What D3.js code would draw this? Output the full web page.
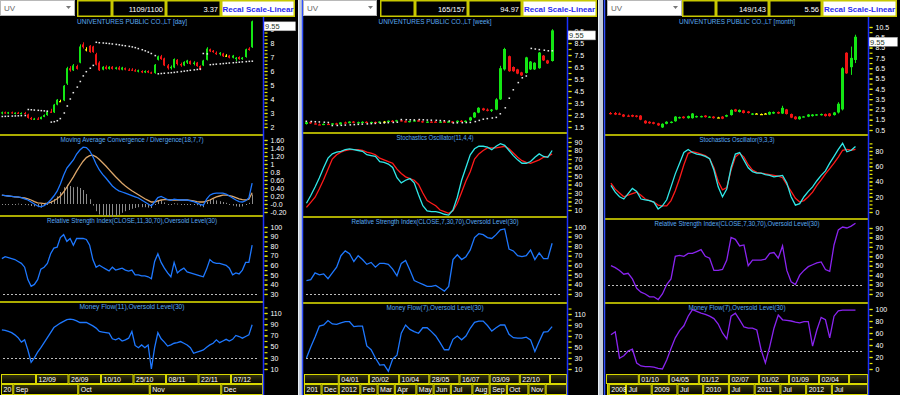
<!DOCTYPE html>
<html>
<head>
<meta charset="utf-8">
<script src="https://cdn.jsdelivr.net/npm/d3@7"></script>
<style>
body { margin: 0; background: #000; }
svg { display: block; font-family: "Liberation Sans", Arial, sans-serif; }
</style>
</head>
<body>
<svg id="chart" width="900" height="395"></svg>
<script>
"use strict";

// ---------- day panel data: [open, high, low, close] ----------
const dayCandles = [
  [3.0,3.1,2.9,3.05],[3.05,3.1,2.95,2.98],[2.98,3.08,2.92,3.05],[3.05,3.1,2.95,2.98],[2.98,3.05,2.9,3.02],
  [3.02,3.08,2.95,2.96],[2.96,3.05,2.9,3.0],[3.0,3.08,2.92,2.95],[2.9,2.95,2.6,2.65],[2.65,2.72,2.5,2.55],
  [2.55,2.65,2.5,2.6],[2.6,2.7,2.52,2.56],[2.56,2.75,2.55,2.72],[2.72,2.9,2.7,2.85],[2.85,3.15,2.8,3.1],
  [3.1,3.3,3.0,3.05],[3.05,3.65,3.0,3.6],[3.6,4.0,3.55,3.95],[3.85,3.95,3.8,3.85],[3.9,5.0,3.85,4.95],
  [5.1,6.3,5.0,6.2],[6.2,6.35,5.95,6.05],[6.05,6.5,6.0,6.4],[6.35,6.45,6.1,6.15],[6.6,7.9,6.55,7.75],
  [7.9,8.05,7.6,7.7],[7.55,7.7,7.4,7.55],[7.8,7.85,7.3,7.35],[7.75,7.8,7.3,7.35],[7.2,7.3,6.4,6.45],
  [6.6,6.7,6.0,6.05],[6.1,6.35,6.05,6.3],[6.3,6.4,6.1,6.15],[6.15,6.35,6.1,6.3],[6.3,6.35,6.1,6.15],
  [6.15,6.3,6.1,6.25],[6.25,6.35,6.05,6.1],[6.1,6.3,6.05,6.25],[6.2,6.25,6.05,6.1],[6.1,6.2,6.0,6.05],
  [6.1,6.2,6.0,6.05],[6.05,6.15,5.95,6.0],[5.95,6.1,5.9,6.05],[6.0,6.05,5.85,5.9],[5.9,6.05,5.85,6.0],
  [6.0,6.05,5.85,5.9],[5.9,5.95,5.8,5.85],[5.85,6.5,5.8,6.45],[6.8,7.1,6.75,7.05],[7.05,7.15,6.8,6.85],
  [6.9,6.95,6.35,6.4],[6.4,6.5,6.1,6.2],[6.2,6.4,6.1,6.3],[6.25,6.9,6.2,6.85],[6.8,6.85,6.4,6.5],
  [6.5,6.6,6.3,6.4],[6.4,6.7,6.35,6.65],[6.6,6.8,6.5,6.75],[6.7,6.75,6.45,6.5],[6.5,6.7,6.4,6.6],
  [6.6,6.65,6.3,6.35],[6.35,6.4,6.05,6.1],[6.4,6.8,6.35,6.75],[6.8,7.7,6.75,7.6],[7.55,7.6,7.35,7.4],
  [7.45,7.5,7.3,7.35],[7.3,7.4,7.15,7.2],[7.2,7.35,7.1,7.3],[7.25,7.3,7.0,7.05],[7.1,7.2,7.0,7.1],
  [7.1,7.15,6.9,6.95],[6.95,7.15,6.9,7.1],[6.85,7.0,6.7,6.95],[7.0,7.05,6.8,6.85],[6.85,7.0,6.8,6.95],
  [7.0,7.6,6.95,7.55],[7.6,7.7,7.45,7.5],[7.7,9.6,7.65,9.55]
];
const daySar = [
  2.75,2.76,2.77,2.78,2.79,2.8,2.81,2.82,
  3.25,3.23,3.21,3.19,3.17,3.15,3.13,
  2.35,2.38,2.45,2.6,3.0,3.5,4.0,4.45,4.85,5.25,5.65,5.95,6.2,6.4,
  8.05,8.02,8.0,7.98,7.96,7.93,7.9,7.87,7.83,7.8,7.76,7.72,7.67,7.6,7.52,7.44,7.35,7.25,7.1,
  5.8,5.82,5.84,5.86,5.88,5.9,5.93,5.96,5.99,6.02,6.05,6.08,6.11,6.14,
  7.25,7.22,
  6.45,6.47,6.49,6.51,6.53,6.55,6.57,6.59,6.61,6.63,6.65,6.67,6.69,6.7
];
const dayMacd = [
  0.22,0.21,0.2,0.19,0.18,0.18,0.16,0.13,0.1,0.05,
  0.0,-0.05,-0.07,-0.04,0.02,0.1,0.2,0.32,0.5,0.72,
  0.9,1.0,1.1,1.25,1.35,1.42,1.41,1.33,1.18,1.0,
  0.85,0.74,0.65,0.55,0.45,0.38,0.33,0.3,0.27,0.24,
  0.21,0.18,0.15,0.1,0.05,0.0,-0.05,0.05,0.16,0.19,
  0.15,0.11,0.09,0.12,0.11,0.1,0.1,0.1,0.08,0.06,
  0.03,-0.01,-0.03,0.12,0.22,0.26,0.27,0.27,0.27,0.25,
  0.2,0.15,0.1,0.06,0.05,0.08,0.15,0.52
];
const daySignal = [
  0.22,0.21,0.2,0.19,0.18,0.17,0.16,0.15,0.13,0.1,
  0.06,0.03,0.02,0.01,0.02,0.04,0.08,0.13,0.2,0.3,
  0.42,0.55,0.68,0.82,0.95,1.07,1.16,1.21,1.22,1.18,
  1.11,1.03,0.95,0.86,0.77,0.68,0.6,0.52,0.45,0.39,
  0.33,0.28,0.23,0.18,0.13,0.09,0.05,0.05,0.08,0.1,
  0.11,0.11,0.1,0.1,0.1,0.1,0.1,0.1,0.09,0.08,
  0.06,0.05,0.05,0.07,0.1,0.14,0.18,0.2,0.22,0.22,
  0.21,0.19,0.16,0.13,0.11,0.1,0.12,0.28
];
const dayRsi = [
  67,69,68,67,66,64,62,58,45,38, 40,45,56,58,62,72,78,79,89,92,
  85,88,81,88,88,88,87,81,66,58, 60,58,56,54,58,55,56,57,55,54,
  55,50,50,49,49,48,46,64,72,63, 57,52,48,63,52,55,57,53,52,51,
  50,49,48,56,66,63,62,62,61,60, 57,50,52,51,55,63,63,81
];
const dayMf = [
  80,79,77,75,71,66,58,62,44,22, 30,40,48,57,66,75,84,88,92,95,
  98,99,98,96,93,93,93,90,87,83, 77,76,75,74,64,62,65,60,62,65,
  77,52,48,53,48,53,10,48,75,64, 58,51,53,56,57,59,56,53,48,38,
  40,42,44,49,53,56,62,57,60,63, 60,63,70,68,65,68,71,89
];
const dayTickIdx = [11, 21, 31, 41, 51, 61, 71];
const dayTickLabels = ["", "12/09", "26/09", "10/10", "25/10", "08/11", "22/11", "07/12"];
const dayMonthIdx = [4, 24, 46, 68];
const dayMonthLabels = ["20", "Sep", "Oct", "Nov", "Dec"];
const dayHeader = ["", "1109/1100", "3.37", "Recal Scale-Linear"];

// ---------- week panel data ----------
const weekCandles = [
  [1.75,1.95,1.7,1.9],[1.9,1.95,1.75,1.8],[1.8,1.88,1.7,1.75],[1.72,1.8,1.65,1.68],[1.68,1.8,1.65,1.76],
  [1.76,1.82,1.68,1.7],[1.7,1.82,1.68,1.8],[1.8,1.85,1.7,1.72],[1.72,1.9,1.7,1.88],[1.88,1.95,1.8,1.82],
  [1.82,1.98,1.8,1.95],[1.95,2.0,1.82,1.85],[1.85,1.95,1.8,1.9],[1.9,1.98,1.85,1.93],[1.93,1.98,1.85,1.88],
  [1.88,1.95,1.84,1.92],[1.92,1.96,1.86,1.9],[1.9,1.98,1.86,1.95],[1.95,2.0,1.9,1.95],[1.95,2.05,1.92,2.02],
  [2.02,2.08,1.95,2.0],[2.0,2.1,1.95,2.06],[2.06,2.1,1.95,1.98],[1.98,2.05,1.88,1.92],[1.92,2.02,1.88,2.0],
  [2.0,2.1,1.95,2.05],[2.05,2.12,1.95,1.98],[1.98,2.02,1.85,1.88],[1.88,1.98,1.85,1.95],[1.95,1.98,1.86,1.9],
  [1.95,2.0,1.88,1.9],[1.9,1.98,1.85,1.95],[1.95,2.0,1.88,1.92],[1.92,2.0,1.88,1.96],[1.96,2.0,1.88,1.9],
  [1.9,2.05,1.88,2.02],[2.02,2.08,1.92,1.95],[1.95,2.05,1.9,2.02],[2.05,2.35,2.0,2.3],[2.3,2.75,2.25,2.7],
  [2.7,3.15,2.65,3.1],[3.05,3.1,2.85,2.9],[2.95,3.05,2.8,2.85],[2.85,3.0,2.75,2.95],[2.95,3.9,2.9,3.8],
  [3.8,6.6,3.75,6.4],[6.3,8.1,6.2,8.0],[7.4,7.45,6.1,6.15],[6.5,6.55,6.1,6.15],[6.3,6.35,5.9,5.95],
  [6.05,6.1,5.75,5.8],[6.0,7.35,5.95,7.3],[6.3,7.0,6.25,6.95],[6.3,6.9,6.25,6.85],[6.4,7.75,6.35,7.7],
  [7.45,7.5,7.0,7.05],[7.05,7.1,6.75,6.8],[7.0,9.65,6.95,9.55]
];
const weekSar = [
  1.98,1.96,1.94,1.92,1.9,1.88,
  1.62,1.63,1.64,1.66,1.68,1.7,1.72,1.74,1.76,1.78,1.8,1.82,1.84,1.86,1.88,1.9,
  2.12,2.11,2.1,2.09,2.12,2.1,2.08,2.07,2.06,2.04,2.02,2.0,
  1.84,1.85,1.86,1.87,
  1.88,1.95,2.05,2.15,2.2,2.25,2.3,2.6,3.1,3.9,4.6,5.2,5.6,5.75,
  8.05,8.0,7.95,7.9,7.85,7.85
];
const weekK = [
  18,27,37,48,60,71,76,78,79,81, 82,81,80,79,75,74,73,67,66,64,
  60,48,42,45,47,42,28,15,9,8, 8,7,5,4,10,25,45,60,75,82,
  85,85,84,81,85,88,86,80,74,69, 65,65,67,72,76,73,72,80
];
const weekD = [
  13,19,25,35,46,58,70,75,78,80, 81,81,81,80,78,77,75,71,69,67,
  65,58,53,49,47,45,40,30,21,18, 15,10,8,6,9,18,31,44,55,70,
  76,80,83,83,83,84,85,82,77,72, 68,66,65,67,69,72,73,76
];
const weekRsi = [
  44,45,52,50,51,46,52,58,70,75, 72,64,70,66,61,63,58,62,62,61,
  56,49,62,65,55,44,42,40,38,38, 39,36,33,38,66,71,66,69,76,89,
  93,92,89,88,92,97,98,77,75,70, 69,70,76,66,73,67,67,83
];
const weekMf = [
  30,50,68,88,90,98,92,91,94,96, 96,87,88,88,52,45,30,17,18,6,
  28,35,75,90,82,78,75,85,85,78, 70,58,45,45,64,70,63,70,84,95,
  97,97,89,79,85,90,90,73,67,66, 66,68,63,42,60,77,78,87
];
const weekTickIdx = [8, 15, 22, 29, 36, 43, 50, 57];
const weekTickLabels = ["", "04/01", "20/02", "10/04", "28/05", "16/07", "03/09", "22/10", ""];
const weekMonthIdx = [4, 8, 13, 17, 21, 26, 30, 34, 39, 43, 47, 52, 56];
const weekMonthLabels = ["201", "Dec", "2012", "Feb", "Mar", "Apr", "May", "Jun", "Jul", "Aug", "Sep", "Oct", "Nov", ""];
const weekHeader = ["", "165/157", "94.97", "Recal Scale-Linear"];

// ---------- month panel data ----------
const monthCandles = [
  [2.15,2.25,2.0,2.05],[2.15,2.25,1.95,2.0],[2.1,2.2,1.95,1.98],[2.0,2.05,1.75,1.8],[1.9,2.0,1.78,1.82],
  [1.95,2.0,1.75,1.8],[1.9,1.95,1.72,1.78],[1.9,1.95,1.45,1.5],[1.4,1.45,1.1,1.15],[1.3,1.35,1.1,1.15],
  [1.25,1.3,1.05,1.1],[1.15,1.2,0.9,0.95],[0.75,1.15,0.7,1.1],[1.1,1.35,1.05,1.3],[1.2,1.35,1.15,1.3],
  [1.35,1.85,1.3,1.8],[1.65,1.8,1.6,1.75],[1.8,1.85,1.6,1.65],[1.65,1.9,1.6,1.85],[1.65,2.15,1.6,2.1],
  [1.75,1.9,1.7,1.85],[1.75,1.9,1.72,1.85],[1.9,1.95,1.7,1.75],[1.75,1.85,1.68,1.8],[1.8,1.85,1.6,1.65],
  [1.72,1.78,1.68,1.72],[1.8,1.85,1.55,1.6],[1.8,2.0,1.75,1.95],[1.95,2.5,1.9,2.45],[2.5,2.55,2.25,2.3],
  [2.25,2.5,2.2,2.45],[2.4,2.45,2.1,2.15],[2.3,2.35,2.1,2.15],[2.0,2.15,1.95,2.1],[2.1,2.15,2.05,2.1],
  [2.05,2.1,2.0,2.05],[2.1,2.15,2.05,2.1],[2.0,2.3,1.95,2.25],[2.1,2.3,2.05,2.25],[2.25,2.3,2.05,2.1],
  [2.1,2.85,2.05,2.65],[2.5,2.55,2.0,2.05],[2.05,2.1,1.65,1.7],[1.8,1.85,1.5,1.55],[1.55,1.85,1.5,1.8],
  [1.75,1.85,1.72,1.82],[1.8,2.05,1.75,2.0],[1.85,2.05,1.8,2.0],[1.9,2.05,1.88,2.02],[1.95,2.1,1.9,2.05],
  [2.05,2.1,1.8,1.85],[2.1,2.15,1.8,1.85],[1.95,2.25,1.9,2.2],[2.2,3.2,2.1,3.05],[2.5,6.6,2.4,6.5],
  [8.0,8.05,5.95,6.0],[6.6,8.6,5.85,7.5],[7.3,9.75,7.0,9.55]
];
const monthK = [
  35,26,20,17,24,31,27,17,16,15, 13,4,8,16,33,50,64,78,82,78,
  76,75,73,70,55,33,20,30,58,76, 78,68,58,53,51,51,49,48,46,47,
  48,38,20,9,11,20,27,33,41,48, 54,64,73,82,90,79,81,86
];
const monthD = [
  38,30,25,20,22,24,26,22,17,15, 13,9,8,8,15,28,44,62,77,79,
  78,76,74,70,58,40,29,32,55,72, 77,72,62,55,52,51,50,49,48,47,
  45,36,27,18,13,15,20,26,35,42, 50,57,64,72,81,82,81,82
];
const monthRsi = [
  50,48,45,41,42,36,26,22,20,17, 17,14,20,30,36,60,61,60,63,63,
  65,67,60,58,45,45,46,56,80,78, 71,72,50,56,56,56,57,63,64,58,
  71,45,33,30,40,45,49,51,53,54, 46,44,72,88,91,90,92,95
];
const monthMf = [
  57,62,18,22,30,33,10,5,4,4, 3,1,0,15,34,52,64,72,88,99,
  96,93,91,88,84,75,60,50,88,93, 82,70,68,68,65,32,10,37,68,90,
  82,81,80,78,77,79,79,38,65,86, 82,52,88,97,98,98,98,98
];
const monthTickIdx = [7, 14, 21, 28, 35, 42, 49, 56];
const monthTickLabels = ["", "01/10", "04/05", "01/12", "02/07", "01/02", "01/09", "02/04", ""];
const monthMonthIdx = [0, 4, 10, 16, 22, 28, 34, 40, 46, 52];
const monthMonthLabels = ["", "2008", "Jul", "2009", "Jul", "2010", "Jul", "2011", "Jul", "2012", "Jul"];
const monthHeader = ["", "149/143", "5.56", "Recal Scale-Linear"];

// ---------- styles ----------
const YEL = "#e6e600"
const AXIS_BLUE = "#1a30ff"
const TITLE = "#5aaaf0"
const GREEN = "#14e614", RED = "#f01414", DOJI = "#ffff00"
const LINE_BLUE = "#1e78ff", PURPLE = "#8a24f0", CYAN = "#30e8e8", SIG_RED = "#ff1a1a", TAN = "#dca66a"

const svg = d3.select("#chart")
svg.append("rect").attr("width", 900).attr("height", 395).attr("fill", "#000")

const grad = svg.append("defs").append("linearGradient").attr("id", "glow")
    .attr("x1", 0).attr("y1", 0).attr("x2", 0).attr("y2", 1)
grad.append("stop").attr("offset", "0%").attr("stop-color", "#34340e")
grad.append("stop").attr("offset", "100%").attr("stop-color", "#060600")

function rightAxis(g, scale, axisX, ticks, labels, minor) {
    var gm = g.append("g").attr("transform", "translate(" + (axisX + 1.5) + ",0)")
        .call(d3.axisRight(scale).tickValues(minor).tickSize(3).tickFormat(""))
    var ga = g.append("g").attr("transform", "translate(" + (axisX + 1.5) + ",0)")
        .call(d3.axisRight(scale).tickValues(ticks).tickSize(3).tickPadding(3)
            .tickFormat(d => labels[ticks.indexOf(d)]))
    ;[gm, ga].forEach(a => {
        a.select(".domain").remove()
        a.attr("font-family", null).attr("font-size", null)
        a.selectAll(".tick line").attr("stroke", YEL).attr("stroke-width", 1.2)
        a.selectAll(".tick text").attr("fill", "#fff").attr("font-size", 7)
    })
}

function drawTitle(g, text, cx, y, w) {
    g.append("text").attr("x", cx).attr("y", y).attr("text-anchor", "middle")
        .attr("font-size", 7.5).attr("fill", TITLE)
        .attr("textLength", w).attr("lengthAdjust", "spacingAndGlyphs")
        .text(text)
}

function drawCandles(g, data, cx, y, bodyW) {
    var c = g.append("g").selectAll("g").data(data).join("g")
        .attr("fill", d => d[3] > d[0] ? GREEN : d[3] < d[0] ? RED : DOJI)
        .attr("stroke", d => d[3] > d[0] ? GREEN : d[3] < d[0] ? RED : DOJI)
    c.each(function (d, i) {
        var left = Math.round(cx(i) - bodyW / 2)
        var wx = left + Math.floor(bodyW / 2) + 0.5
        var sel = d3.select(this)
        sel.append("line").attr("x1", wx).attr("x2", wx)
            .attr("y1", y(d[1])).attr("y2", y(d[2])).attr("stroke-width", 1)
        var top = y(Math.max(d[0], d[3])), bot = y(Math.min(d[0], d[3]))
        sel.append("rect").attr("x", left).attr("width", bodyW)
            .attr("y", top).attr("height", Math.max(1.2, bot - top)).attr("stroke", "none")
    })
}

function drawDates(g, p, x) {
    var rows = [
        { y: 374, h: 10, idx: p.tickIdx, labels: p.tickLabels, start: p.x0 + 1 },
        { y: 384, h: 11, idx: p.monthIdx, labels: p.monthLabels, start: p.x0 + (p.monthStart || 1) }
    ]
    rows.forEach(r => {
        var edges = [r.start].concat(r.idx.map(i => x(i))).concat([p.axisX])
        var boxes = d3.range(edges.length - 1).map(k => ({ x: edges[k], w: edges[k + 1] - edges[k], label: r.labels[k] }))
        var b = g.append("g").selectAll("g").data(boxes).join("g")
        b.append("rect").attr("x", d => d.x + 0.5).attr("y", r.y + 0.5)
            .attr("width", d => Math.max(0, d.w - 1)).attr("height", r.h - 1)
            .attr("fill", "url(#glow)").attr("stroke", "#d8d800").attr("stroke-width", 1)
        b.append("text").attr("x", d => d.x + 2.5).attr("y", r.y + 8)
            .attr("font-size", 7).attr("fill", "#fff").text(d => d.label)
    })
}

function drawHeader(g, p) {
    var d0 = p.drop[0], d1 = p.drop[1]
    g.append("rect").attr("x", d0 + 0.5).attr("y", 0.5).attr("width", d1 - d0 - 1).attr("height", 15)
        .attr("fill", "#fff").attr("stroke", "#b8b8b8")
    g.append("text").attr("x", d0 + 4).attr("y", 11).attr("font-size", 8).attr("fill", "#666").text("UV")
    g.append("path").attr("d", "M" + (d1 - 9) + ",6 h5 l-2.5,3 z").attr("fill", "#777")
    var e = p.edges
    for (var k = 0; k < 4; k++) {
        var last = k === 3
        g.append("rect").attr("x", e[k] + 0.75).attr("y", 0.75)
            .attr("width", e[k + 1] - e[k] - 1.5).attr("height", 15.5)
            .attr("fill", last ? "#fff" : "#000").attr("stroke", "#c8c800").attr("stroke-width", 1.5)
        if (last) {
            g.append("text").attr("x", (e[k] + e[k + 1]) / 2).attr("y", 11.5).attr("text-anchor", "middle")
                .attr("font-size", 8).attr("font-weight", "bold").attr("fill", "#2a2af0").text(p.header[k])
        } else {
            g.append("text").attr("x", e[k + 1] - 3).attr("y", 11.5).attr("text-anchor", "end")
                .attr("font-size", 7.5).attr("fill", "#fff").text(p.header[k])
        }
    }
}

function drawPanel(p) {
    var g = svg.append("g")
    var n = p.candles.length
    var x = d3.scaleBand().domain(d3.range(n)).range([p.bandStart, p.bandStart + n * p.step])
    var cx = i => x(i) + x.bandwidth() / 2

    // separators between sub-panels
    p.seps.forEach(y => g.append("line").attr("x1", p.x0).attr("x2", p.axisX)
        .attr("y1", y).attr("y2", y).attr("stroke", YEL).attr("stroke-width", 1.5))

    // price chart
    var yP = d3.scaleLinear().domain(p.priceDomain).range(p.priceRange)
    drawCandles(g, p.candles, cx, yP, p.bodyW)
    if (p.sar) {
        g.append("g").selectAll("rect").data(p.sar).join("rect")
            .attr("x", (d, i) => Math.round(cx(i)) - 0.5).attr("y", d => yP(d) - 0.75)
            .attr("width", 1.6).attr("height", 1.5).attr("fill", "#e8e8e8")
    }
    drawTitle(g, p.title, p.titleX, 24, p.titleW)
    rightAxis(g, yP, p.axisX, p.priceTicks, p.priceTicks.map(p.priceFmt), p.priceMinor)

    // indicator panels
    p.subs.forEach(s => {
        var y = d3.scaleLinear().domain(s.domain).range(s.range)
        if (s.oversold !== undefined) {
            g.append("line").attr("x1", p.x0 + 3).attr("x2", p.axisX - 5)
                .attr("y1", Math.round(y(s.oversold)) + 0.5).attr("y2", Math.round(y(s.oversold)) + 0.5)
                .attr("stroke", "#bdbdbd").attr("stroke-dasharray", "2,2")
        }
        if (s.hist) {
            g.append("g").selectAll("rect").data(s.hist[0]).join("rect")
                .attr("x", (d, i) => Math.round(cx(i)))
                .attr("width", 1)
                .attr("y", (d, i) => Math.min(y(0), y(d - s.hist[1][i])))
                .attr("height", (d, i) => Math.max(1, Math.abs(y(0) - y(d - s.hist[1][i]))))
                .attr("fill", "#8c8c8c")
        }
        s.lines.forEach(l => {
            g.append("path").datum(l.data)
                .attr("d", d3.line().x((d, i) => cx(i)).y(d => y(d)))
                .attr("fill", "none").attr("stroke", l.color).attr("stroke-width", 1.3)
        })
        drawTitle(g, s.title, p.titleX, s.titleY, s.titleW)
        rightAxis(g, y, p.axisX, s.ticks, s.labels || s.ticks.map(String), s.minor)
    })

    // last price box
    var last = p.candles[n - 1][3]
    var by = yP(last) + 0.5
    g.append("rect").attr("x", p.axisX + 0.5).attr("y", by).attr("width", p.right - p.axisX - 3).attr("height", 9)
        .attr("fill", "#fff").attr("stroke", "#9a9a9a").attr("stroke-width", 0.5)
    g.append("text").attr("x", p.axisX + 2).attr("y", by + 7.5).attr("font-size", 7.5).attr("fill", "#2a3a2a")
        .text(d3.format(".2f")(last))

    drawDates(g, p, x)

    // vertical axis line
    g.append("line").attr("x1", p.axisX + 0.5).attr("x2", p.axisX + 0.5).attr("y1", 17).attr("y2", 395)
        .attr("stroke", AXIS_BLUE).attr("stroke-width", 1.5)
    if (p.x0 > 0) {
        g.append("line").attr("x1", p.x0 - 0.5).attr("x2", p.x0 - 0.5).attr("y1", 0).attr("y2", 395)
            .attr("stroke", "#3050ff").attr("stroke-width", 1.5)
    }
    drawHeader(g, p)
}

const rsiTicks = [30, 40, 50, 60, 70, 80, 90, 100]
const mfTicks = [10, 30, 50, 70, 90, 110]

const panels = [
    {
        x0: 0, axisX: 263, right: 298, bandStart: 0.25, step: 3.25, bodyW: 2,
        candles: dayCandles, sar: daySar,
        title: "UNIVENTURES PUBLIC CO.,LT [day]", titleX: 132, titleW: 110,
        priceDomain: [2, 9], priceRange: [127, 29],
        priceTicks: [2, 3, 4, 5, 6, 7, 8, 9], priceFmt: String, priceMinor: d3.range(2, 9.3, 0.25),
        seps: [135, 216, 302],
        tickIdx: dayTickIdx, tickLabels: dayTickLabels, monthIdx: dayMonthIdx, monthLabels: dayMonthLabels,
        drop: [0, 75], edges: [77, 112, 166, 221, 295], header: dayHeader,
        subs: [
            {
                title: "Moving Average Convergence / Divergence(18,7,7)", titleY: 142, titleW: 143,
                domain: [-0.2, 1.6], range: [212, 140],
                ticks: [-0.2, 0, 0.2, 0.4, 0.6, 0.8, 1, 1.2, 1.4, 1.6],
                labels: ["-0.20", "-0.0", "0.20", "0.40", "0.60", "0.8", "1", "1.20", "1.40", "1.60"],
                minor: d3.range(-0.2, 1.65, 0.1),
                hist: [dayMacd, daySignal],
                lines: [{ data: daySignal, color: TAN }, { data: dayMacd, color: LINE_BLUE }]
            },
            {
                title: "Relative Strength Index(CLOSE,11,30,70),Oversold Level(30)", titleY: 223, titleW: 170,
                domain: [30, 100], range: [294, 227], ticks: rsiTicks, minor: d3.range(30, 101, 5),
                oversold: 30, lines: [{ data: dayRsi, color: LINE_BLUE }]
            },
            {
                title: "Money Flow(11),Oversold Level(30)", titleY: 309, titleW: 105,
                domain: [10, 110], range: [369, 313], ticks: mfTicks, minor: d3.range(10, 121, 10),
                oversold: 30, lines: [{ data: dayMf, color: LINE_BLUE }]
            }
        ]
    },
    {
        x0: 303, axisX: 567, right: 598, bandStart: 304.3, step: 4.31, bodyW: 3,
        candles: weekCandles, sar: weekSar,
        title: "UNIVENTURES PUBLIC CO.,LT [week]", titleX: 435, titleW: 113,
        priceDomain: [1.5, 9.5], priceRange: [127, 31],
        priceTicks: [1.5, 2.5, 3.5, 4.5, 5.5, 6.5, 7.5, 8.5, 9.5], priceFmt: String, priceMinor: d3.range(1.5, 9.6, 0.5),
        seps: [133, 217, 303],
        tickIdx: weekTickIdx, tickLabels: weekTickLabels, monthIdx: weekMonthIdx, monthLabels: weekMonthLabels,
        drop: [303, 377], edges: [380, 415, 468, 522, 597], header: weekHeader,
        subs: [
            {
                title: "Stochastics Oscillator(11,4,4)", titleY: 140, titleW: 77,
                domain: [10, 90], range: [210, 142], ticks: [10, 20, 30, 40, 50, 60, 70, 80, 90],
                minor: d3.range(10, 96, 5),
                lines: [{ data: weekD, color: SIG_RED }, { data: weekK, color: CYAN }]
            },
            {
                title: "Relative Strength Index(CLOSE,7,30,70),Oversold Level(30)", titleY: 224, titleW: 167,
                domain: [30, 100], range: [294, 227], ticks: rsiTicks, minor: d3.range(30, 101, 5),
                oversold: 30, lines: [{ data: weekRsi, color: LINE_BLUE }]
            },
            {
                title: "Money Flow(7),Oversold Level(30)", titleY: 310, titleW: 97,
                domain: [10, 110], range: [369, 314], ticks: mfTicks, minor: d3.range(10, 121, 10),
                oversold: 30, lines: [{ data: weekMf, color: LINE_BLUE }]
            }
        ]
    },
    {
        x0: 605, axisX: 868, right: 900, bandStart: 608.8, step: 4.29, bodyW: 3,
        candles: monthCandles, sar: null,
        title: "UNIVENTURES PUBLIC CO.,LT [month]", titleX: 737, titleW: 116,
        priceDomain: [0.5, 10.5], priceRange: [130, 27],
        priceTicks: [0.5, 1.5, 2.5, 3.5, 4.5, 5.5, 6.5, 7.5, 8.5, 9.5, 10.5], priceFmt: String,
        priceMinor: d3.range(0.5, 10.6, 0.5),
        seps: [135, 219, 303],
        tickIdx: monthTickIdx, tickLabels: monthTickLabels, monthIdx: monthMonthIdx, monthLabels: monthMonthLabels,
        monthStart: 2,
        drop: [607, 682], edges: [682, 716, 769, 822, 897], header: monthHeader,
        subs: [
            {
                title: "Stochastics Oscillator(9,3,3)", titleY: 142, titleW: 75,
                domain: [0, 80], range: [212, 151], ticks: [0, 20, 40, 60, 80],
                minor: d3.range(0, 91, 5),
                lines: [{ data: monthD, color: SIG_RED }, { data: monthK, color: CYAN }]
            },
            {
                title: "Relative Strength Index(CLOSE,7,30,70),Oversold Level(30)", titleY: 226, titleW: 165,
                domain: [20, 90], range: [294, 228], ticks: [20, 30, 40, 50, 60, 70, 80, 90],
                minor: d3.range(20, 91, 5),
                oversold: 30, lines: [{ data: monthRsi, color: PURPLE }]
            },
            {
                title: "Money Flow(7),Oversold Level(30)", titleY: 310, titleW: 97,
                domain: [0, 100], range: [369, 309], ticks: [0, 20, 40, 60, 80, 100],
                minor: d3.range(0, 101, 10),
                oversold: 30, lines: [{ data: monthMf, color: PURPLE }]
            }
        ]
    }
]

// grey splitters between the three windows
;[298, 598].forEach(sx => {
    svg.append("rect").attr("x", sx).attr("y", 0).attr("width", 5).attr("height", 395).attr("fill", "#c4ccd8")
    svg.append("line").attr("x1", sx + 0.5).attr("x2", sx + 0.5).attr("y1", 0).attr("y2", 395)
        .attr("stroke", "#e8eef4").attr("stroke-width", 1)
})

panels.forEach(drawPanel)
</script>
</body>
</html>
